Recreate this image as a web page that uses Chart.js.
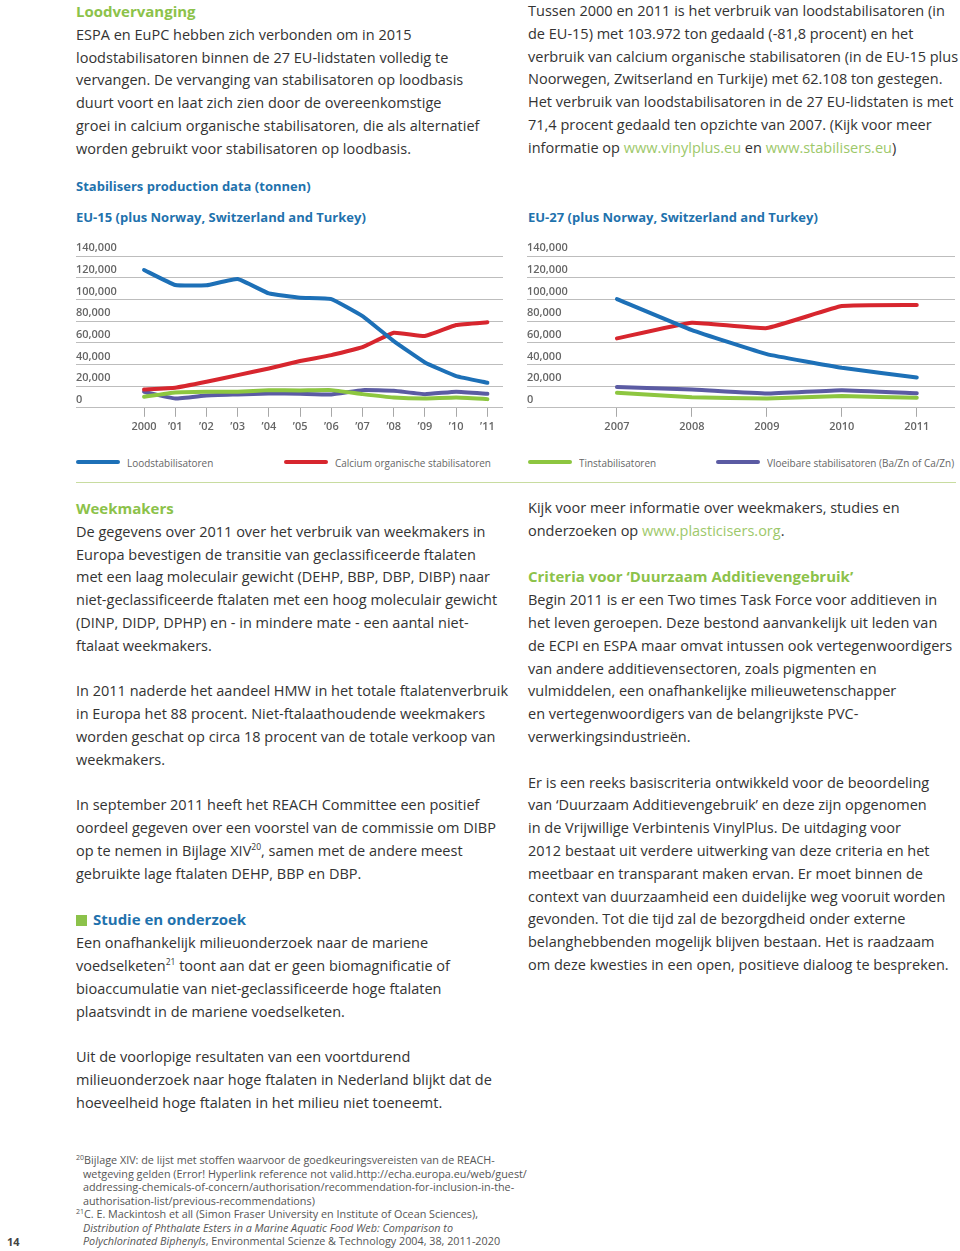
<!DOCTYPE html>
<html lang="nl">
<head>
<meta charset="utf-8">
<script src="https://cdn.jsdelivr.net/npm/chart.js@4"></script>
<style>
  html, body { margin:0; padding:0; background:#fff; }
  body { position:relative; width:960px; height:1251px; overflow:hidden; font-family:"Open Sans", "Noto Sans", sans-serif; color:#333; }
  .blk { position:absolute; font-size:14.5px; line-height:22.8px; white-space:nowrap; }
  .gh { color:#8cc24a; font-weight:700; font-size:15px; }
  .bh { color:#1f72ad; font-weight:700; font-size:13px; }
  .lnk { color:#9dc86a; }
  sup { font-size:8.5px; line-height:0; vertical-align:6px; }
  .ct { position:absolute; color:#1f72ad; font-weight:700; font-size:13px; line-height:16px; white-space:nowrap; }
  canvas { position:absolute; }
  #legend { position:absolute; left:0; top:454px; width:960px; height:16px; }
  .li { position:absolute; top:0; height:16px; display:flex; align-items:center; font-size:11px; color:#666; white-space:nowrap; }
  .li .tx { display:inline-block; transform:scaleX(0.905); transform-origin:left center; }
  .sw { display:inline-block; width:44px; height:4px; border-radius:2px; margin-right:7px; flex:none; }
  .sep { position:absolute; left:76px; top:482px; width:880px; height:1px; background:#c8dca0; }
  .fn { position:absolute; left:76px; top:1153px; font-size:10.8px; line-height:13.5px; color:#555; white-space:nowrap; }
  .fn .in { padding-left:7px; }
  .fn sup { font-size:7px; vertical-align:4px; }
  .pg { position:absolute; left:7px; top:1234px; font-size:11px; font-weight:700; color:#444; }
  .sq { display:inline-block; width:11px; height:11px; background:#8cc24a; margin-right:6px; vertical-align:-1px; }
</style>
</head>
<body>

<div class="blk" style="left:76px; top:0px;">
<span class="gh">Loodvervanging</span><br>
ESPA en EuPC hebben zich verbonden om in 2015<br>
loodstabilisatoren binnen de 27 EU-lidstaten volledig te<br>
vervangen. De vervanging van stabilisatoren op loodbasis<br>
duurt voort en laat zich zien door de overeenkomstige<br>
groei in calcium organische stabilisatoren, die als alternatief<br>
worden gebruikt voor stabilisatoren op loodbasis.
</div>

<div class="blk" style="left:528px; top:0px;">
Tussen 2000 en 2011 is het verbruik van loodstabilisatoren (in<br>
de EU-15) met 103.972 ton gedaald (-81,8 procent) en het<br>
verbruik van calcium organische stabilisatoren (in de EU-15 plus<br>
Noorwegen, Zwitserland en Turkije) met 62.108 ton gestegen.<br>
Het verbruik van loodstabilisatoren in de 27 EU-lidstaten is met<br>
71,4 procent gedaald ten opzichte van 2007. (Kijk voor meer<br>
informatie op <span class="lnk">www.vinylplus.eu</span> en <span class="lnk">www.stabilisers.eu</span>)
</div>

<div class="ct" style="left:76px; top:178px;">Stabilisers production data (tonnen)</div>
<div class="ct" style="left:76px; top:209px;">EU-15 (plus Norway, Switzerland and Turkey)</div>
<div class="ct" style="left:528px; top:209px;">EU-27 (plus Norway, Switzerland and Turkey)</div>

<canvas id="c1" width="427" height="200" style="left:76px; top:236px;"></canvas>
<canvas id="c2" width="428" height="200" style="left:527px; top:236px;"></canvas>

<div id="legend"></div>
<div class="sep"></div>

<div class="blk" style="left:76px; top:497px;">
<span class="gh">Weekmakers</span><br>
De gegevens over 2011 over het verbruik van weekmakers in<br>
Europa bevestigen de transitie van geclassificeerde ftalaten<br>
met een laag moleculair gewicht (DEHP, BBP, DBP, DIBP) naar<br>
niet-geclassificeerde ftalaten met een hoog moleculair gewicht<br>
(DINP, DIDP, DPHP) en - in mindere mate - een aantal niet-<br>
ftalaat weekmakers.<br>
<br>
In 2011 naderde het aandeel HMW in het totale ftalatenverbruik<br>
in Europa het 88 procent. Niet-ftalaathoudende weekmakers<br>
worden geschat op circa 18 procent van de totale verkoop van<br>
weekmakers.<br>
<br>
In september 2011 heeft het REACH Committee een positief<br>
oordeel gegeven over een voorstel van de commissie om DIBP<br>
op te nemen in Bijlage XIV<sup>20</sup>, samen met de andere meest<br>
gebruikte lage ftalaten DEHP, BBP en DBP.<br>
<br>
<span class="bh" style="font-size:15px;"><span class="sq"></span>Studie en onderzoek</span><br>
Een onafhankelijk milieuonderzoek naar de mariene<br>
voedselketen<sup>21</sup> toont aan dat er geen biomagnificatie of<br>
bioaccumulatie van niet-geclassificeerde hoge ftalaten<br>
plaatsvindt in de mariene voedselketen.<br>
<br>
Uit de voorlopige resultaten van een voortdurend<br>
milieuonderzoek naar hoge ftalaten in Nederland blijkt dat de<br>
hoeveelheid hoge ftalaten in het milieu niet toeneemt.
</div>

<div class="blk" style="left:528px; top:497px;">
Kijk voor meer informatie over weekmakers, studies en<br>
onderzoeken op <span class="lnk">www.plasticisers.org</span>.<br>
<br>
<span class="gh">Criteria voor ‘Duurzaam Additievengebruik’</span><br>
Begin 2011 is er een Two times Task Force voor additieven in<br>
het leven geroepen. Deze bestond aanvankelijk uit leden van<br>
de ECPI en ESPA maar omvat intussen ook vertegenwoordigers<br>
van andere additievensectoren, zoals pigmenten en<br>
vulmiddelen, een onafhankelijke milieuwetenschapper<br>
en vertegenwoordigers van de belangrijkste PVC-<br>
verwerkingsindustrieën.<br>
<br>
Er is een reeks basiscriteria ontwikkeld voor de beoordeling<br>
van ‘Duurzaam Additievengebruik’ en deze zijn opgenomen<br>
in de Vrijwillige Verbintenis VinylPlus. De uitdaging voor<br>
2012 bestaat uit verdere uitwerking van deze criteria en het<br>
meetbaar en transparant maken ervan. Er moet binnen de<br>
context van duurzaamheid een duidelijke weg vooruit worden<br>
gevonden. Tot die tijd zal de bezorgdheid onder externe<br>
belanghebbenden mogelijk blijven bestaan. Het is raadzaam<br>
om deze kwesties in een open, positieve dialoog te bespreken.
</div>

<div class="fn">
<sup>20</sup>Bijlage XIV: de lijst met stoffen waarvoor de goedkeuringsvereisten van de REACH-<br>
<span class="in">wetgeving gelden (Error! Hyperlink reference not valid.http://echa.europa.eu/web/guest/</span><br>
<span class="in">addressing-chemicals-of-concern/authorisation/recommendation-for-inclusion-in-the-</span><br>
<span class="in">authorisation-list/previous-recommendations)</span><br>
<sup>21</sup>C. E. Mackintosh et all (Simon Fraser University en Institute of Ocean Sciences),<br>
<span class="in"><i>Distribution of Phthalate Esters in a Marine Aquatic Food Web: Comparison to</i></span><br>
<span class="in"><i>Polychlorinated Biphenyls</i>, Environmental Scienze &amp; Technology 2004, 38, 2011-2020</span>
</div>
<div class="pg">14</div>

<script>
// ---- DATA ----
const seriesNames = ['Loodstabilisatoren', 'Calcium organische stabilisatoren', 'Tinstabilisatoren', 'Vloeibare stabilisatoren (Ba/Zn of Ca/Zn)'];
const seriesColors = ['#1d70b7', '#d7262e', '#8dc640', '#5b5ba3'];

const yTicks = [0, 20000, 40000, 60000, 80000, 100000, 120000, 140000];

// EU-15 (plus Norway, Switzerland and Turkey)
const years15 = [2000, 2001, 2002, 2003, 2004, 2005, 2006, 2007, 2008, 2009, 2010, 2011];
const xLabels15 = ['2000', '\u201901', '\u201902', '\u201903', '\u201904', '\u201905', '\u201906', '\u201907', '\u201908', '\u201909', '\u201910', '\u201911'];
const lead15    = [127100, 113200, 113000, 118800, 105500, 101500, 100300, 84600, 61500, 41800, 29200, 23100];
const calcium15 = [16800, 18500, 24000, 30100, 36300, 43100, 48600, 56000, 69200, 66200, 76300, 78900];
const tin15     = [10200, 14200, 14800, 14800, 16300, 16000, 16300, 12600, 9500, 8600, 9500, 8000];
const liquid15  = [14800, 8600, 11400, 12300, 13200, 12900, 12300, 16300, 15700, 12600, 14800, 12900];

// EU-27 (plus Norway, Switzerland and Turkey)
const years27 = [2007, 2008, 2009, 2010, 2011];
const xLabels27 = ['2007', '2008', '2009', '2010', '2011'];
const lead27    = [100300, 71700, 49500, 36900, 28000];
const calcium27 = [64000, 78500, 73500, 93800, 94800];
const tin27     = [13800, 9800, 8600, 10800, 9200];
const liquid27  = [19100, 16900, 13200, 16300, 13500];

// ---- CHARTS ----
function makeChart(id, years, xLabels, series, xmin, xmax) {
  const labelOf = {};
  years.forEach((y, i) => { labelOf[y] = xLabels[i]; });
  const datasets = series.map((vals, i) => ({
    label: seriesNames[i],
    data: years.map((y, j) => ({ x: y, y: vals[j] })),
    borderColor: seriesColors[i],
    backgroundColor: seriesColors[i],
    borderWidth: 4,
    pointRadius: 0,
    tension: 0.1,
    borderCapStyle: 'round',
    borderJoinStyle: 'round',
    fill: false
  }));
  return new Chart(document.getElementById(id), {
    type: 'line',
    data: { datasets },
    options: {
      responsive: false,
      animation: false,
      events: [],
      layout: { padding: { top: 20, bottom: 0, left: 0, right: 0 } },
      plugins: { legend: { display: false }, tooltip: { enabled: false } },
      scales: {
        x: {
          type: 'linear',
          min: xmin, max: xmax,
          afterBuildTicks: ax => { ax.ticks = years.map(v => ({ value: v })); },
          grid: { drawOnChartArea: false, drawTicks: true, tickLength: 9, color: '#a8a8a8', lineWidth: 1 },
          border: { display: false },
          ticks: {
            autoSkip: false, maxRotation: 0, padding: 3,
            color: '#666', font: { family: 'Open Sans', size: 11, weight: '600' },
            callback: v => labelOf[v] !== undefined ? labelOf[v] : ''
          }
        },
        y: {
          min: 0, max: 140000,
          afterBuildTicks: ax => { ax.ticks = yTicks.map(v => ({ value: v })); },
          grid: { drawTicks: false, color: '#bdbdbd', lineWidth: 1 },
          border: { display: false },
          ticks: {
            mirror: true, padding: 0, labelOffset: -8,
            color: '#666', font: { family: 'Open Sans', size: 11, weight: '600' },
            callback: v => v.toLocaleString('en-US')
          }
        }
      }
    }
  });
}

makeChart('c1', years15, xLabels15, [lead15, calcium15, tin15, liquid15], 1997.82, 2011.5);
makeChart('c2', years27, xLabels27, [lead27, calcium27, tin27, liquid27], 2005.8, 2011.51);

// ---- LEGEND ----
const legendX = [76, 284, 528, 716];
const lg = document.getElementById('legend');
seriesNames.forEach((n, i) => {
  const d = document.createElement('div');
  d.className = 'li';
  d.style.left = legendX[i] + 'px';
  d.innerHTML = '<span class="sw" style="background:' + seriesColors[i] + '"></span><span class="tx">' + n + '</span>';
  lg.appendChild(d);
});
</script>
</body>
</html>
